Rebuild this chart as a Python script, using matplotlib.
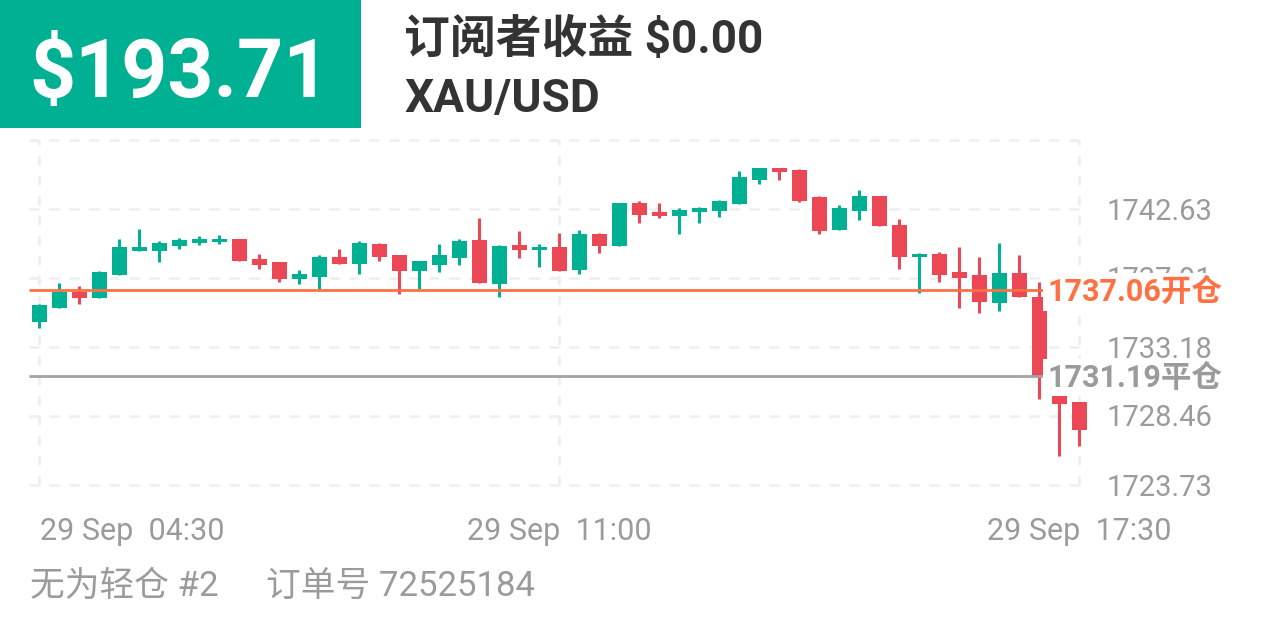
import matplotlib
matplotlib.use("Agg")
import matplotlib.pyplot as plt
from matplotlib.patches import Rectangle
from matplotlib.transforms import blended_transform_factory, offset_copy

# ---------------- data ----------------
opens = [1734.88, 1735.84, 1736.98, 1736.57, 1738.12, 1739.79, 1739.79, 1740.11, 1740.30, 1740.34,
         1740.57, 1739.22, 1739.02, 1737.87, 1738.01, 1739.36, 1738.90, 1740.25, 1739.50, 1738.42,
         1738.81, 1739.27, 1740.52, 1737.51, 1740.16, 1739.82, 1740.06, 1738.47, 1740.94, 1740.11,
         1743.04, 1742.40, 1742.15, 1742.40, 1742.53, 1742.97, 1744.64, 1745.41, 1745.33, 1743.43,
         1741.21, 1742.51, 1743.54, 1741.57, 1739.34, 1739.58, 1738.33, 1738.12, 1736.22, 1738.24,
         1736.63, 1730.24, 1729.41]
highs = [1736.10, 1737.55, 1737.37, 1738.40, 1740.59, 1741.26, 1740.46, 1740.64, 1740.80, 1740.87,
         1740.59, 1739.56, 1739.03, 1738.47, 1739.47, 1739.91, 1740.46, 1740.32, 1739.51, 1739.08,
         1740.27, 1740.57, 1741.99, 1740.15, 1741.16, 1740.25, 1740.98, 1741.19, 1740.98, 1743.06,
         1743.15, 1743.06, 1742.72, 1742.75, 1743.25, 1745.26, 1745.43, 1745.46, 1745.34, 1743.54,
         1742.90, 1743.95, 1743.55, 1741.96, 1739.60, 1739.72, 1740.00, 1739.34, 1740.30, 1739.50,
         1737.62, 1730.25, 1729.42]
lows = [1734.49, 1735.82, 1736.13, 1736.55, 1738.10, 1739.78, 1739.02, 1739.89, 1740.16, 1740.25,
        1739.05, 1738.51, 1737.66, 1737.51, 1737.16, 1738.87, 1738.21, 1739.10, 1736.84, 1737.16,
        1738.35, 1738.83, 1737.54, 1736.59, 1739.27, 1738.65, 1738.39, 1738.21, 1739.65, 1740.10,
        1741.67, 1742.03, 1740.89, 1741.69, 1742.08, 1742.96, 1744.34, 1744.62, 1743.08, 1740.89,
        1741.20, 1741.90, 1741.47, 1738.54, 1736.87, 1737.60, 1735.84, 1735.54, 1735.67, 1736.62,
        1729.60, 1725.73, 1726.39]
closes = [1736.07, 1736.98, 1736.57, 1738.35, 1740.02, 1740.00, 1740.30, 1740.52, 1740.57, 1740.59,
          1739.06, 1738.83, 1737.87, 1738.19, 1739.34, 1738.88, 1740.30, 1739.34, 1738.42, 1739.06,
          1739.45, 1740.41, 1737.55, 1740.13, 1739.84, 1740.06, 1738.40, 1740.94, 1740.11, 1743.04,
          1742.19, 1742.15, 1742.58, 1742.72, 1743.15, 1744.80, 1745.41, 1745.17, 1743.20, 1741.16,
          1742.70, 1743.54, 1741.48, 1739.34, 1739.58, 1738.12, 1737.94, 1736.29, 1738.28, 1736.63,
          1731.19, 1729.26, 1727.49]

grid_levels = [1747.36, 1742.63, 1737.91, 1733.18, 1728.46, 1723.73]
label_levels = ["1742.63", "1737.91", "1733.18", "1728.46", "1723.73"]
xtick_idx = [0, 26, 52]
xtick_labels = ["29 Sep  04:30", "29 Sep  11:00", "29 Sep  17:30"]

open_price = 1737.06
close_price = 1731.19
open_label = "1737.06开仓"
close_label = "1731.19平仓"
profit = "$193.71"
sub_profit = "订阅者收益 $0.00"
symbol = "XAU/USD"
footer_left = "无为轻仓 #2"
footer_right = "订单号 72525184"

# ---------------- style ----------------
GREEN = "#00B092"
RED = "#EC4755"
ORANGE = "#FF7043"
GRAYLINE = "#A3A3A3"
GRAYTXT = "#9B9B9B"
DARK = "#333333"
GRID = "#EEEEEE"
FAM = ["Roboto", "Noto Sans CJK SC", "DejaVu Sans"]
plt.rcParams["font.family"] = FAM

W, H = 1266, 633
fig = plt.figure(figsize=(W / 100, H / 100), dpi=100)
fig.patch.set_facecolor("white")

def fx(px):
    return px / W

def fy(py):
    return 1 - py / H

# axes: x 29..1089, y 140..485 px
ax = fig.add_axes([fx(29), fy(485), fx(1089) - fx(29), fy(140) - fy(485)])
ax.set_xlim(-0.5, 52.5)
ax.set_ylim(grid_levels[-1], grid_levels[0])
ax.axis("off")

# grid
for g in grid_levels:
    ax.axhline(g, color=GRID, lw=1.8, dashes=(4, 4), zorder=0, clip_on=False)
for xi in xtick_idx:
    ax.axvline(xi, color=GRID, lw=1.8, dashes=(4, 4), zorder=0, clip_on=False)

# candles
n = len(opens)
for i in range(n):
    o, h, l, c = opens[i], highs[i], lows[i], closes[i]
    col = GREEN if c >= o else RED
    ax.vlines(i, l, h, color=col, lw=2.2, zorder=2)
    lo_b = min(o, c)
    hb = max(abs(c - o), 0.18)
    ax.bar(i, hb, bottom=lo_b, width=0.75, color=col, zorder=3, linewidth=0)

# open / close lines (end at label start ~x=1046 px)
line_end = (1046 - 29) / 20 - 0.5
ax.hlines(open_price, -0.5, line_end, color=ORANGE, lw=2.0, zorder=4)
ax.hlines(close_price, -0.5, line_end, color=GRAYLINE, lw=2.0, zorder=4)

# y labels
blend = blended_transform_factory(fig.transFigure, ax.transData)
ytrans = offset_copy(blend, fig=fig, y=-10.5, units="dots")
for lv, s in zip(grid_levels[1:], label_levels):
    ax.text(fx(1107), float(s), s, transform=ytrans, ha="left", va="baseline",
            fontsize=21, color=GRAYTXT, zorder=5, clip_on=False)

# open / close labels with white background (the open label covers 1737.91, as in the source)
ax.text(fx(1047), open_price, open_label, transform=ytrans, ha="left", va="baseline",
        fontsize=22, fontweight="bold", color=ORANGE, zorder=6, clip_on=False,
        bbox=dict(boxstyle="square,pad=0.12", fc="white", ec="none"))
ax.text(fx(1047), close_price, close_label, transform=ytrans, ha="left", va="baseline",
        fontsize=22, fontweight="bold", color=GRAYTXT, zorder=6, clip_on=False,
        bbox=dict(boxstyle="square,pad=0.12", fc="white", ec="none"))

# x labels
xb = blended_transform_factory(ax.transData, fig.transFigure)
for k, (xi, s) in enumerate(zip(xtick_idx, xtick_labels)):
    if k == 0:
        fig.text(fx(40), fy(540), s, ha="left", va="baseline", fontsize=22, color=GRAYTXT)
    else:
        ax.text(xi, fy(540), s, transform=xb, ha="center", va="baseline",
                fontsize=22, color=GRAYTXT, clip_on=False)

# header
fig.patches.append(Rectangle((0, fy(128)), fx(361), 128 / H, transform=fig.transFigure,
                             facecolor=GREEN, edgecolor="none", zorder=0))
fig.text(fx(29), fy(97), profit, ha="left", va="baseline", fontsize=58,
         fontweight="bold", color="white")
fig.text(fx(404), fy(53), sub_profit, ha="left", va="baseline", fontsize=33,
         fontweight="bold", color=DARK)
fig.text(fx(404), fy(112), symbol, ha="left", va="baseline", fontsize=33,
         fontweight="bold", color=DARK)

# footer
fig.text(fx(30), fy(596), footer_left, ha="left", va="baseline", fontsize=25, color=GRAYTXT)
fig.text(fx(266), fy(596), footer_right, ha="left", va="baseline", fontsize=25, color=GRAYTXT)

fig.savefig("out.png", dpi=100, facecolor="white")
